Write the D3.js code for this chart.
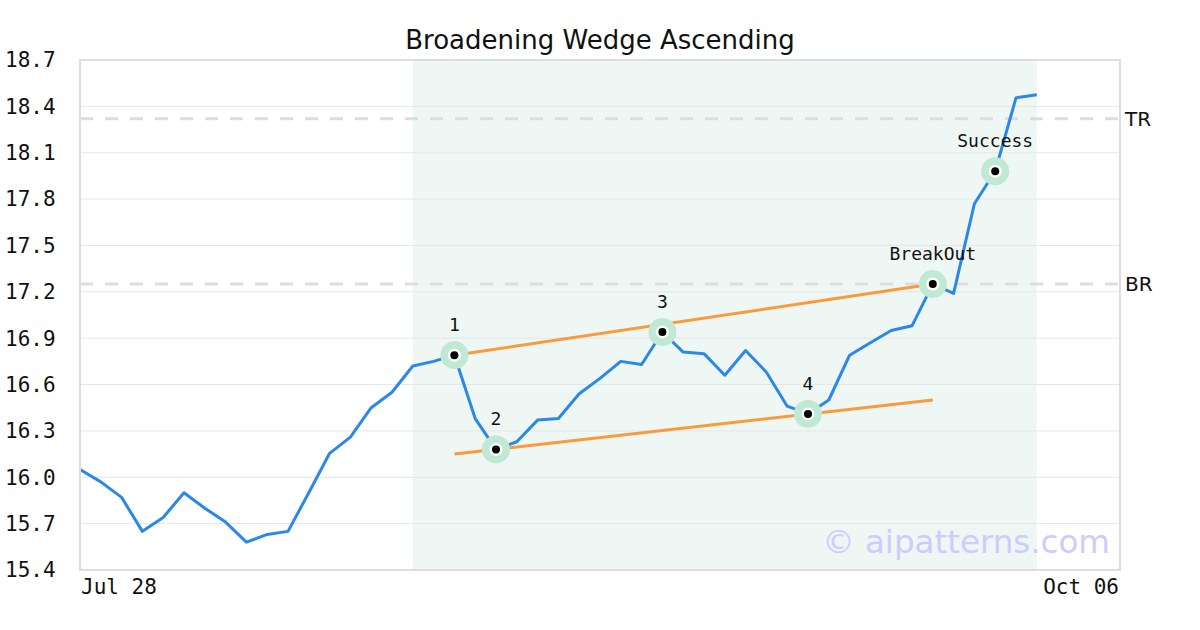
<!DOCTYPE html>
<html>
<head>
<meta charset="utf-8">
<script src="https://cdn.jsdelivr.net/npm/d3@7"></script>
<style>
  html, body { margin: 0; padding: 0; background: #fff; }
  svg { display: block; }
</style>
</head>
<body>
<script>
// ---- data ----
const title = "Broadening Wedge Ascending";
const prices = [
  16.05, 15.97, 15.87, 15.65, 15.74, 15.90, 15.80, 15.71, 15.58, 15.63,
  15.65, 15.90, 16.155, 16.26, 16.45, 16.55, 16.72, 16.75, 16.79, 16.38,
  16.18, 16.23, 16.37, 16.38, 16.54, 16.64, 16.75, 16.73, 16.94, 16.81,
  16.80, 16.66, 16.82, 16.68, 16.46, 16.41, 16.50, 16.79, 16.87, 16.95,
  16.98, 17.25, 17.19, 17.77, 17.98, 18.455, 18.475
];
const xTickIndex = [0, 50];
const xTickLabels = ["Jul 28", "Oct 06"];
const yTicks = [15.4, 15.7, 16.0, 16.3, 16.6, 16.9, 17.2, 17.5, 17.8, 18.1, 18.4, 18.7];
const patternRange = [16, 46];
const pointIndex = [18, 20, 28, 35, 41, 44];
const pointLabels = ["1", "2", "3", "4", "BreakOut", "Success"];
const upperTrend = [[18, 16.79], [41, 17.25]];
const lowerTrend = [[18, 16.15], [41, 16.50]];
const levelValues = [18.32, 17.25];
const levelLabels = ["TR", "BR"];
const watermark = "\u00a9 aipatterns.com";

// ---- layout ----
const W = 1200, H = 630;
const L = 80, R = 1120, T = 60, B = 570;

const svg = d3.select("body").append("svg").attr("width", W).attr("height", H);

const x = d3.scaleLinear().domain([0, 50]).range([L, R]);
const y = d3.scaleLinear().domain([15.4, 18.7]).range([B, T]);

// pattern shading
svg.append("rect")
  .attr("x", x(patternRange[0])).attr("y", T)
  .attr("width", x(patternRange[1]) - x(patternRange[0])).attr("height", B - T)
  .attr("fill", "#eff7f4");

// grid lines
svg.append("g").selectAll("line").data(yTicks.slice(1, -1)).join("line")
  .attr("x1", L).attr("x2", R)
  .attr("y1", d => y(d)).attr("y2", d => y(d))
  .attr("stroke", "#e6e6e6").attr("stroke-width", 1);

// level dashed lines
svg.append("g").selectAll("line").data(levelValues).join("line")
  .attr("x1", L).attr("x2", R)
  .attr("y1", d => y(d)).attr("y2", d => y(d))
  .attr("stroke", "#dddddd").attr("stroke-width", 3)
  .attr("stroke-dasharray", "13,12");

svg.append("g").selectAll("text").data(levelValues).join("text")
  .attr("x", R + 5).attr("y", d => y(d))
  .attr("dy", "0.35em")
  .attr("font-family", "DejaVu Sans, sans-serif").attr("font-size", 20)
  .attr("fill", "#111")
  .text((d, i) => levelLabels[i]);

// watermark
svg.append("text")
  .attr("x", 1110).attr("y", 553)
  .attr("text-anchor", "end")
  .attr("font-family", "DejaVu Sans, sans-serif").attr("font-size", 32.5)
  .attr("fill", "#ccccff")
  .text(watermark);

// trend lines
const tl = d3.line().x(d => x(d[0])).y(d => y(d[1]));
[upperTrend, lowerTrend].forEach(t => {
  svg.append("path").attr("d", tl(t))
    .attr("fill", "none").attr("stroke", "#fa9a3c").attr("stroke-width", 3);
});

// price line
const line = d3.line().x((d, i) => x(i)).y(d => y(d));
svg.append("path").datum(prices).attr("d", line)
  .attr("fill", "none").attr("stroke", "#2b88e8").attr("stroke-width", 3)
  .attr("stroke-linejoin", "round");

// markers
const mk = svg.append("g").selectAll("g").data(pointIndex).join("g")
  .attr("transform", d => `translate(${x(d)},${y(prices[d])})`);
mk.append("circle").attr("r", 14).attr("fill", "#bfe9d4");
mk.append("circle").attr("r", 6.5).attr("fill", "#fff");
mk.append("circle").attr("r", 4).attr("fill", "#000");
mk.append("text")
  .attr("y", -24)
  .attr("text-anchor", "middle")
  .attr("font-family", "DejaVu Sans Mono, monospace").attr("font-size", 18)
  .attr("fill", "#111")
  .text((d, i) => pointLabels[i]);

// frame
svg.append("rect").attr("x", L).attr("y", T).attr("width", R - L).attr("height", B - T)
  .attr("fill", "none").attr("stroke", "#dedede").attr("stroke-width", 2);

// y tick labels
svg.append("g").selectAll("text").data(yTicks).join("text")
  .attr("x", 5).attr("y", d => y(d))
  .attr("dy", "0.35em")
  .attr("font-family", "DejaVu Sans Mono, monospace").attr("font-size", 21)
  .attr("fill", "#111")
  .text(d => d.toFixed(1));

// x tick labels
svg.append("g").selectAll("text").data(xTickIndex).join("text")
  .attr("x", (d, i) => i === 0 ? x(d) + 1 : x(d) - 1)
  .attr("y", 594)
  .attr("text-anchor", (d, i) => i === 0 ? "start" : "end")
  .attr("font-family", "DejaVu Sans Mono, monospace").attr("font-size", 21)
  .attr("fill", "#111")
  .text((d, i) => xTickLabels[i]);

// title
svg.append("text")
  .attr("x", 600).attr("y", 49)
  .attr("text-anchor", "middle")
  .attr("font-family", "DejaVu Sans, sans-serif").attr("font-size", 26)
  .attr("fill", "#111")
  .text(title);
</script>
</body>
</html>
